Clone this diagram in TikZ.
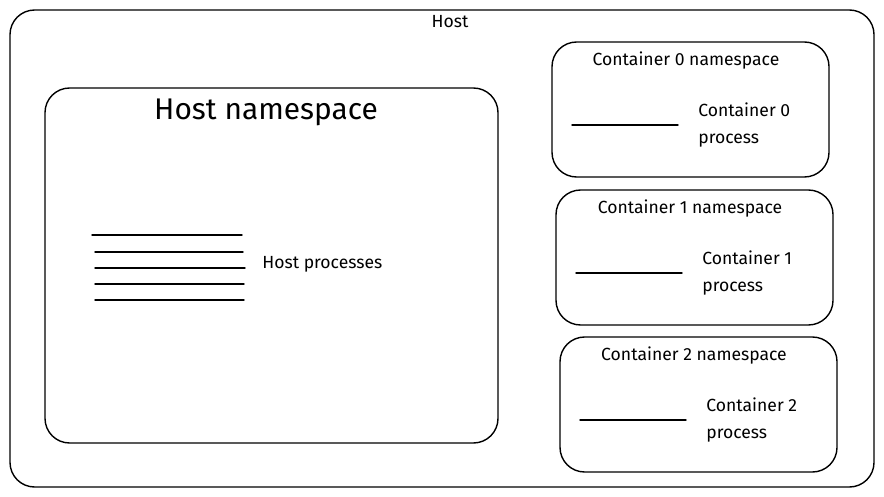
\documentclass[tikz,border=0pt]{standalone}
\usepackage{fontspec}
\setmainfont{Fira Sans}
\usetikzlibrary{calc}
\usetikzlibrary{positioning}
\begin{document}
\begin{tikzpicture}[x=0.02cm, y=-0.02cm, box/.style={draw, thick, rounded corners=14pt}, proc line/.style={draw, thick, line cap=round}, lbl/.style={font=\fontsize{10}{12}\selectfont, align=left, inner sep=0pt}]
      \useasboundingbox (0,0) rectangle (884,496);
      \draw[box] (10,10) rectangle (874,487);
      \node[lbl] (host) at (450,22) {Host};
      \draw[box] (45,88) rectangle (498,443);
      \node[lbl, font=\fontsize{17}{20}\selectfont] (hostns) at (266,112) {Host namespace};
      \foreach \y/\a/\b in {235/92/242, 252/95/243, 268/95/245, 284/95/244, 300/95/244}
        \draw[proc line] (\a,\y) -- (\b,\y);
      \node[lbl, anchor=west] (hostproc) at (262,264) {Host processes};
      \foreach \i/\x/\y in {0/552/42, 1/556/190, 2/560/337} {
        \draw[box] (\x,\y) rectangle ++(277,135);
        \node[lbl] (title\i) at ($(\x,\y)+(134,19)$) {Container \i{} namespace};
        \draw[proc line] ($(\x,\y)+(20,83)$) -- ++(106,0);
        \node[lbl, anchor=west] (proc\i) at ($(\x,\y)+(146,83)$) {Container \i\\[3pt]process};
      }
    \end{tikzpicture}
\end{document}
